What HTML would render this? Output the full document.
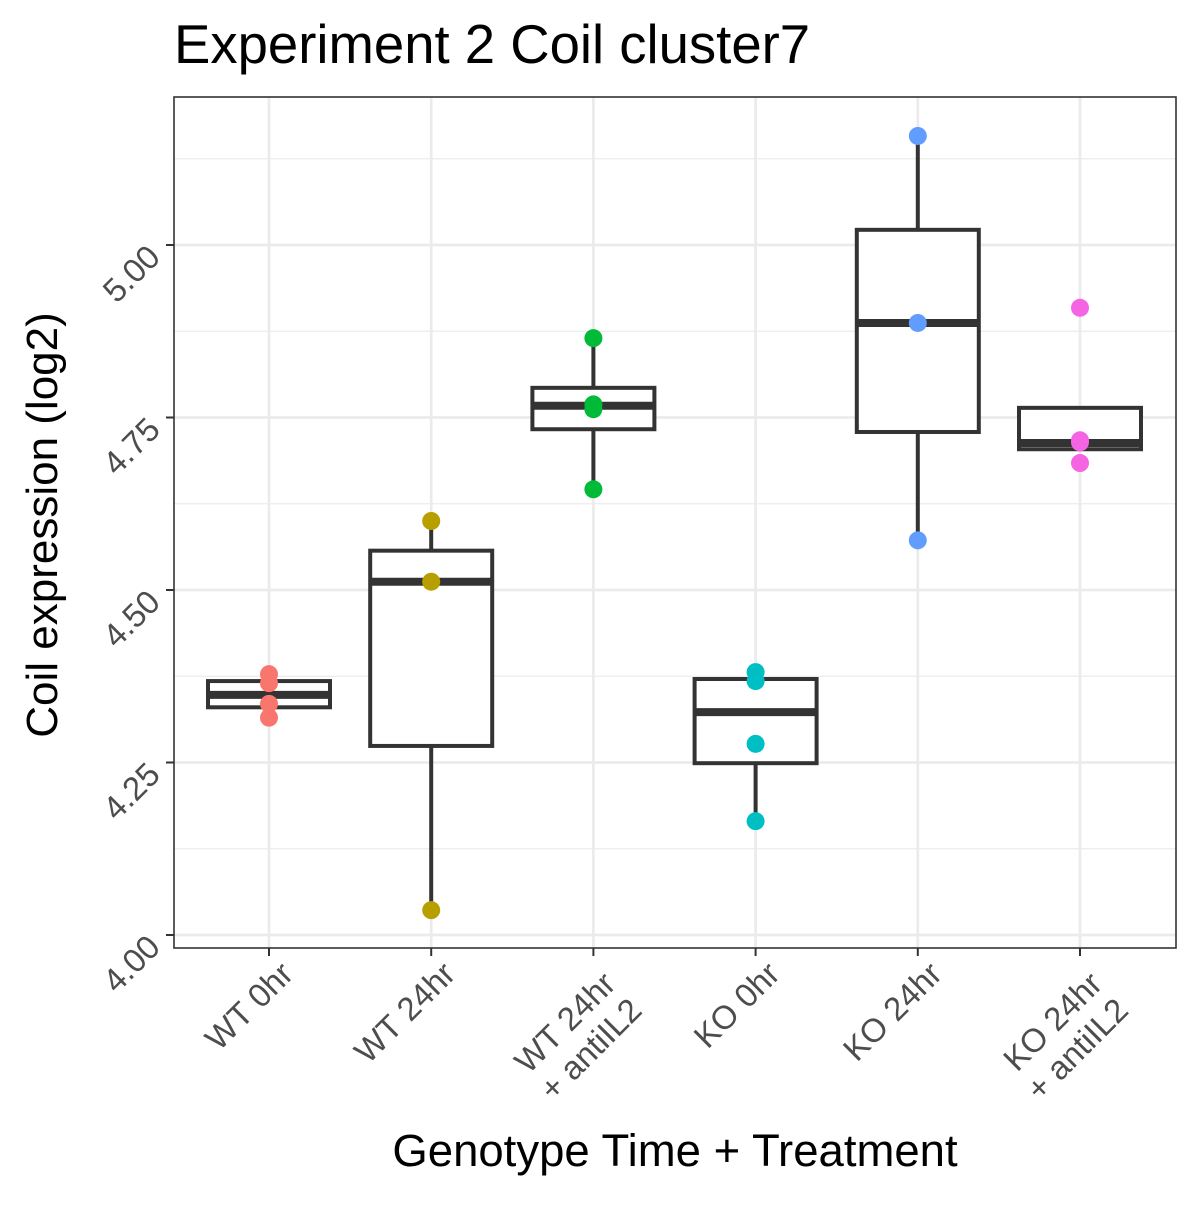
<!DOCTYPE html>
<html><head><meta charset="utf-8"><style>
body{margin:0;background:#fff;font-family:"Liberation Sans",sans-serif}
</style></head><body>
<svg id="chart" width="1200" height="1200" xmlns="http://www.w3.org/2000/svg">
<rect width="1200" height="1200" fill="#fff"/>
<text x="174" y="63" font-size="54.5" fill="#000">Experiment 2 Coil cluster7</text>
<g id="grid"></g><g id="marks"></g><g id="axes"></g>
<text x="675" y="1166" font-size="45.5" text-anchor="middle">Genotype Time + Treatment</text>
<text transform="translate(57,525) rotate(-90)" font-size="44" text-anchor="middle">Coil expression (log2)</text>
</svg>
<script>
const categories=[["WT 0hr"],["WT 24hr"],["WT 24hr","+ antiIL2"],["KO 0hr"],["KO 24hr"],["KO 24hr","+ antiIL2"]];
const colors=["#F8766D","#B79F00","#00BA38","#00BFC4","#619CFF","#F564E3"];
const points=[[4.378,4.365,4.335,4.315],[4.6,4.512,4.036],[4.865,4.769,4.762,4.646],[4.381,4.368,4.277,4.165],[5.158,4.887,4.572],[4.909,4.717,4.714,4.684]];
const q1=[4.330,4.274,4.733,4.249,4.729,4.704];
const med=[4.348,4.512,4.767,4.323,4.887,4.713];
const q3=[4.368,4.557,4.793,4.371,5.022,4.764];
const wlo=[4.330,4.036,4.646,4.165,4.572,4.704];
const whi=[4.368,4.6,4.865,4.371,5.158,4.764];
const yTicks=[4.00,4.25,4.50,4.75,5.00];
const yMinor=[4.125,4.375,4.625,4.875,5.125];
const L=174,R=1176,T=97,B=948;
const y=v=>935-(v-4)*690;
const x=i=>269+i*162.2;
const NS="http://www.w3.org/2000/svg";
function mk(p,tag,a){const e=document.createElementNS(NS,tag);for(const k in a)e.setAttribute(k,a[k]);p.appendChild(e);return e;}
const g=document.getElementById('grid'),m=document.getElementById('marks'),ax=document.getElementById('axes');
mk(g,'rect',{x:L,y:T,width:R-L,height:B-T,fill:'#fff'});
yMinor.forEach(v=>{const l=mk(g,'line',{x1:L,x2:R,y1:y(v),y2:y(v),stroke:'#ebebeb','stroke-width':1.3});

});
yTicks.forEach(v=>{const l=mk(g,'line',{x1:L,x2:R,y1:y(v),y2:y(v),stroke:'#ebebeb','stroke-width':2.7});

});
categories.forEach((c,i)=>{const l=mk(g,'line',{x1:x(i),x2:x(i),y1:T,y2:B,stroke:'#ebebeb','stroke-width':2.7});

});
const hw=61;
categories.forEach((c,i)=>{
 const cx=x(i);
 const bg=mk(m,'g',{});
 
 
 mk(bg,'line',{x1:cx,x2:cx,y1:y(q3[i]),y2:y(whi[i]),stroke:'#333','stroke-width':4});
 mk(bg,'line',{x1:cx,x2:cx,y1:y(q1[i]),y2:y(wlo[i]),stroke:'#333','stroke-width':4});
 mk(bg,'rect',{x:cx-hw,y:y(q3[i]),width:2*hw,height:y(q1[i])-y(q3[i]),fill:'#fff',stroke:'#333','stroke-width':4});
 mk(bg,'line',{x1:cx-hw,x2:cx+hw,y1:y(med[i]),y2:y(med[i]),stroke:'#333','stroke-width':8});
 points[i].forEach(v=>{const p=mk(m,'circle',{cx:cx,cy:y(v),r:9,fill:colors[i]});
 
 });
});
mk(ax,'rect',{x:L,y:T,width:R-L,height:B-T,fill:'none',stroke:'#333','stroke-width':1.6});
yTicks.forEach(v=>{mk(ax,'line',{x1:L-8,x2:L,y1:y(v),y2:y(v),stroke:'#333','stroke-width':2});
 const t=mk(ax,'text',{transform:`translate(${L-12},${y(v)+14}) rotate(-45)`,'font-size':33,fill:'#4d4d4d','text-anchor':'end'});
 t.textContent=v.toFixed(2);
 
 });
categories.forEach((c,i)=>{mk(ax,'line',{x1:x(i),x2:x(i),y1:B,y2:B+8,stroke:'#333','stroke-width':2});
 const two=c.length>1;
 const t=mk(ax,'text',{transform:`translate(${x(i)+(two?24:26)},${B+(two?38:28)}) rotate(-45)`,'font-size':33,fill:'#4d4d4d','text-anchor':'end'});
 
 
 c.forEach((s,j)=>{const ts=mk(t,'tspan',{x:0,dy:j?37:0});ts.textContent=s;});
});
</script>
</body></html>
